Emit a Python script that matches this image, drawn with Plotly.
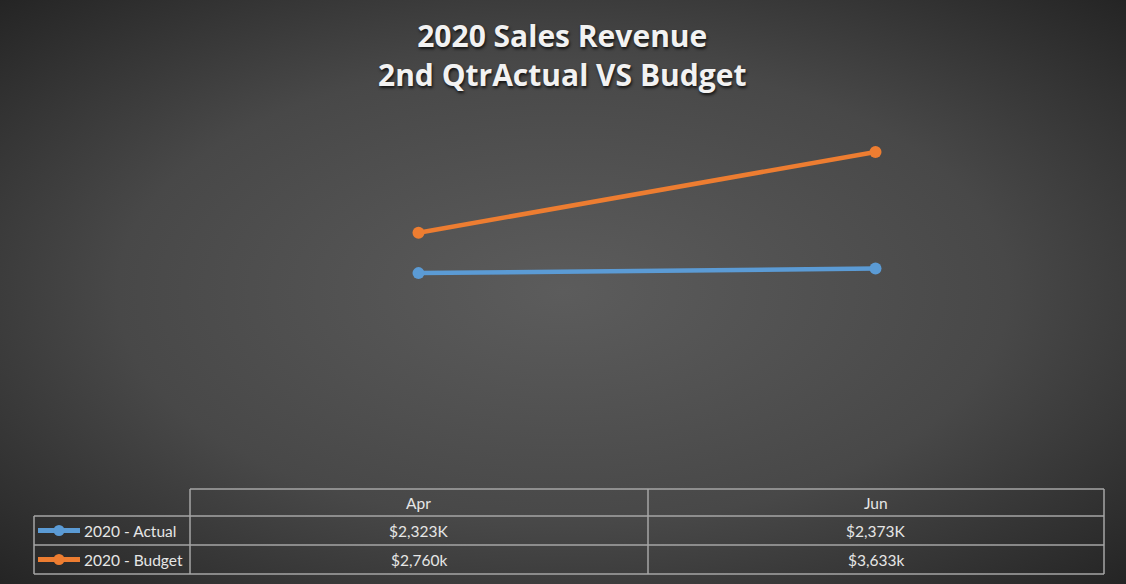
import plotly.graph_objects as go

# ---- data ----
months = ["Apr", "Jun"]
actual = [2323, 2373]
budget = [2760, 3633]
series_names = ["2020 - Actual", "2020 - Budget"]
series_suffix = ["K", "k"]
title_lines = ["2020 Sales Revenue", "2nd QtrActual VS Budget"]

W, H = 1126, 584
BLUE = "#5B9BD5"
ORANGE = "#ED7D31"
GRID = "#a6a6a6"
TXT = "#e6e6e6"


def px(x):
    return x / W


def py(y):
    return 1 - y / H


bg_svg = (
    "data:image/svg+xml;utf8,"
    "<svg xmlns='http://www.w3.org/2000/svg' width='1126' height='584' "
    "viewBox='0 0 1126 584' preserveAspectRatio='none'>"
    "<defs><radialGradient id='g' cx='50%' cy='50%' r='72%' fx='50%' fy='50%'>"
    "<stop offset='0' stop-color='%235c5c5c'/>"
    "<stop offset='0.55' stop-color='%23484848'/>"
    "<stop offset='1' stop-color='%23232323'/>"
    "</radialGradient></defs>"
    "<rect width='1126' height='584' fill='url(%23g)'/></svg>"
)

fig = go.Figure()
for vals, name, col in [(actual, series_names[0], BLUE), (budget, series_names[1], ORANGE)]:
    fig.add_trace(go.Scatter(
        x=months, y=vals, name=name, mode="lines+markers",
        line=dict(color=col, width=4.5),
        marker=dict(color=col, size=12),
        showlegend=False,
    ))

x0p, x1p = 190, 1104
ytop, ybot = 118, 488
fig.update_layout(
    width=W, height=H,
    margin=dict(l=0, r=0, t=0, b=0),
    paper_bgcolor="#3a3a3a",
    plot_bgcolor="rgba(0,0,0,0)",
    xaxis=dict(domain=[px(x0p), px(x1p)], range=[-0.5, 1.5], visible=False,
               type="category"),
    yaxis=dict(domain=[py(ybot), py(ytop)], range=[0, 4000], visible=False),
    images=[dict(source=bg_svg, xref="paper", yref="paper", x=0, y=1,
                 sizex=1, sizey=1, sizing="stretch", layer="below",
                 xanchor="left", yanchor="top")],
)

# title
fig.add_annotation(
    text="<b>" + title_lines[0] + "</b><br><b>" + title_lines[1] + "</b>",
    xref="paper", yref="paper", x=px(562), y=py(55), showarrow=False,
    xanchor="center", yanchor="middle",
    font=dict(family="Open Sans", size=30, color="#f2f2f2",
              shadow="1px 2px 3px rgba(0,0,0,0.75)"),
    align="center",
)

# table geometry (pixels)
row_y = [489, 516, 545, 574]
col_x = [34, 190, 648, 1104]
shapes = []
lc = dict(color=GRID, width=1.5)
# header row: only data columns
shapes.append(dict(type="line", xref="paper", yref="paper", x0=px(col_x[1]), x1=px(col_x[3]),
                   y0=py(row_y[0]), y1=py(row_y[0]), line=lc))
for ry in row_y[1:]:
    shapes.append(dict(type="line", xref="paper", yref="paper", x0=px(col_x[0]), x1=px(col_x[3]),
                       y0=py(ry), y1=py(ry), line=lc))
shapes.append(dict(type="line", xref="paper", yref="paper", x0=px(col_x[0]), x1=px(col_x[0]),
                   y0=py(row_y[1]), y1=py(row_y[3]), line=lc))
for cx in col_x[1:]:
    shapes.append(dict(type="line", xref="paper", yref="paper", x0=px(cx), x1=px(cx),
                       y0=py(row_y[0]), y1=py(row_y[3]), line=lc))

FONT = dict(family="Lato", size=15.5, color=TXT)
# header labels
for m in months:
    fig.add_annotation(text=m, xref="x", yref="paper", x=m,
                       y=py((row_y[0] + row_y[1]) / 2), showarrow=False,
                       xanchor="center", yanchor="middle", font=FONT)

# rows
for i, (vals, name, col, suf) in enumerate(zip([actual, budget], series_names,
                                                [BLUE, ORANGE], series_suffix)):
    cy = (row_y[i + 1] + row_y[i + 2]) / 2
    shapes.append(dict(type="line", xref="paper", yref="paper", x0=px(38), x1=px(80),
                       y0=py(cy), y1=py(cy), line=dict(color=col, width=5)))
    shapes.append(dict(type="circle", xref="paper", yref="paper",
                       x0=px(59 - 5.5), x1=px(59 + 5.5), y0=py(cy + 5.5), y1=py(cy - 5.5),
                       fillcolor=col, line=dict(color=col, width=0)))
    fig.add_annotation(text=name, xref="paper", yref="paper", x=px(82), y=py(cy),
                       showarrow=False, xanchor="left", yanchor="middle", font=FONT)
    for m, v in zip(months, vals):
        fig.add_annotation(text="${:,}{}".format(v, suf), xref="x", yref="paper", x=m,
                           y=py(cy), showarrow=False, xanchor="center", yanchor="middle",
                           font=FONT)

fig.update_layout(shapes=shapes)

fig.write_html("out.html", config={"displayModeBar": False},
               post_script="document.body.style.margin='0';document.body.style.overflow='hidden';")
